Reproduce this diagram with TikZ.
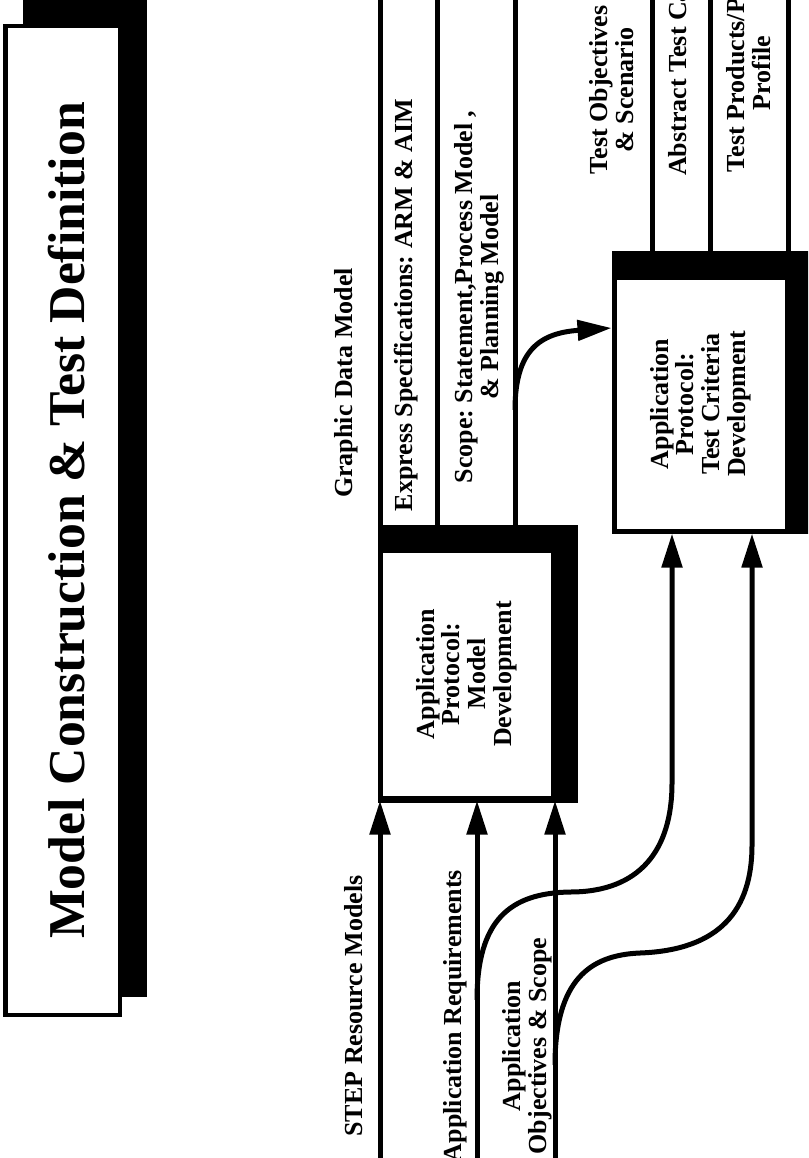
\documentclass[tikz,border=0pt]{standalone}
\usepackage{fontspec}
\setmainfont{Liberation Serif}
\usetikzlibrary{arrows.meta}
\frenchspacing
\begin{document}
\begin{tikzpicture}[x=1pt,y=-1pt,
  conn/.style={line width=5pt},
  arr/.style={conn,-{Triangle[length=34pt,width=20pt]}},
  lbl/.style={font=\fontsize{26}{26}\selectfont\bfseries, rotate=90, inner sep=0pt, align=center},
  box/.style={draw, line width=5pt, fill=white, rotate=90, inner sep=0pt, align=center, font=\fontsize{26}{25.7}\selectfont\bfseries},
  shadowfill/.style={fill=black}]
\useasboundingbox (0,0) rectangle (808,1158);
\clip (0,0) rectangle (808,1158);

% title
\fill[shadowfill] (23,0) rectangle (147,997);
\node[box, line width=4.5pt, minimum width=989pt, minimum height=114.5pt, text height=44pt,
      font=\fontsize{51.7}{52}\selectfont\bfseries] (title) at (62.75,520.5)
      {Model Construction \& Test Definition};

% shadows and boxes
\fill[shadowfill] (377.5,525) rectangle (578,802.5);
\fill[shadowfill] (611.5,251) rectangle (812,533.5);
\node[box, minimum width=248pt, minimum height=173pt] (b1) at (466.5,674)
  {Application\\Protocol:\\Model\\Development};
\node[box, minimum width=254pt, minimum height=173pt] (b2) at (700.5,404)
  {Application\\Protocol:\\Test Criteria\\Development};

% coordinates
\coordinate (o1) at (380,0);
\coordinate (o2) at (437,0);
\coordinate (o3) at (515,0);
\coordinate (o4) at (652,0);
\coordinate (o5) at (710,0);
\coordinate (o6) at (788,0);
\coordinate (i1) at (380,1158);
\coordinate (i2) at (477,1158);
\coordinate (i3) at (555,1158);
\coordinate (br1) at (477,1000);
\coordinate (br2) at (555,1065);
\coordinate (br3) at (515,410);
\coordinate (k1) at (672,783);
\coordinate (k2) at (752,845);
\coordinate (y328) at (0,328);
\coordinate (sc) at (b2.north |- y328);

% outputs
\draw[conn] (o1) -- (o1 |- b1.east);
\draw[conn] (o2) -- (o2 |- b1.east);
\draw[conn] (o3) -- (o3 |- b1.east);
\draw[conn] (o4) -- (o4 |- b2.east);
\draw[conn] (o5) -- (o5 |- b2.east);
\draw[conn] (o6) -- (o6 |- b2.east);

% inputs
\draw[arr] (i1) -- (i1 |- b1.west);
\draw[arr] (i2) -- (i2 |- b1.west);
\draw[arr] (i3) -- (i3 |- b1.west);
\draw[arr] (br1) .. controls (477,920) and (510,893) .. (570,892)
  .. controls (640,892) and (672,850) .. (k1) -- (k1 |- b2.west);
\draw[arr] (br2) .. controls (555,980) and (590,955) .. (640,953)
  .. controls (720,950) and (752,910) .. (k2) -- (k2 |- b2.west);
\draw[arr] (br3) .. controls (515,350) and (540,333) .. (sc);

% labels
\node[lbl, anchor=base] (gdm) at (352,383) {Graphic Data Model};
\node[lbl, anchor=base] (exp) at (412,305) {Express Specifications: ARM \& AIM};
\node[lbl] (scp) at (479,297) {Scope: Statement,Process Model ,\\\& Planning Model};
\node[lbl] (tos) at (612,90) {Test Objectives\\\& Scenario};
\node[lbl, anchor=base west] (atc) at (686,176) {Abstract Test Cases};
\node[lbl] (tpp) at (749,73) {Test Products/Pro\\Profile};
\node[lbl, anchor=base] (srm) at (362,1006) {STEP Resource Models};
\node[lbl, anchor=base] (arq) at (461,1016) {Application Requirements};
\node[lbl] (aos) at (527,1046) {Application\\Objectives \& Scope};
\end{tikzpicture}
\end{document}
